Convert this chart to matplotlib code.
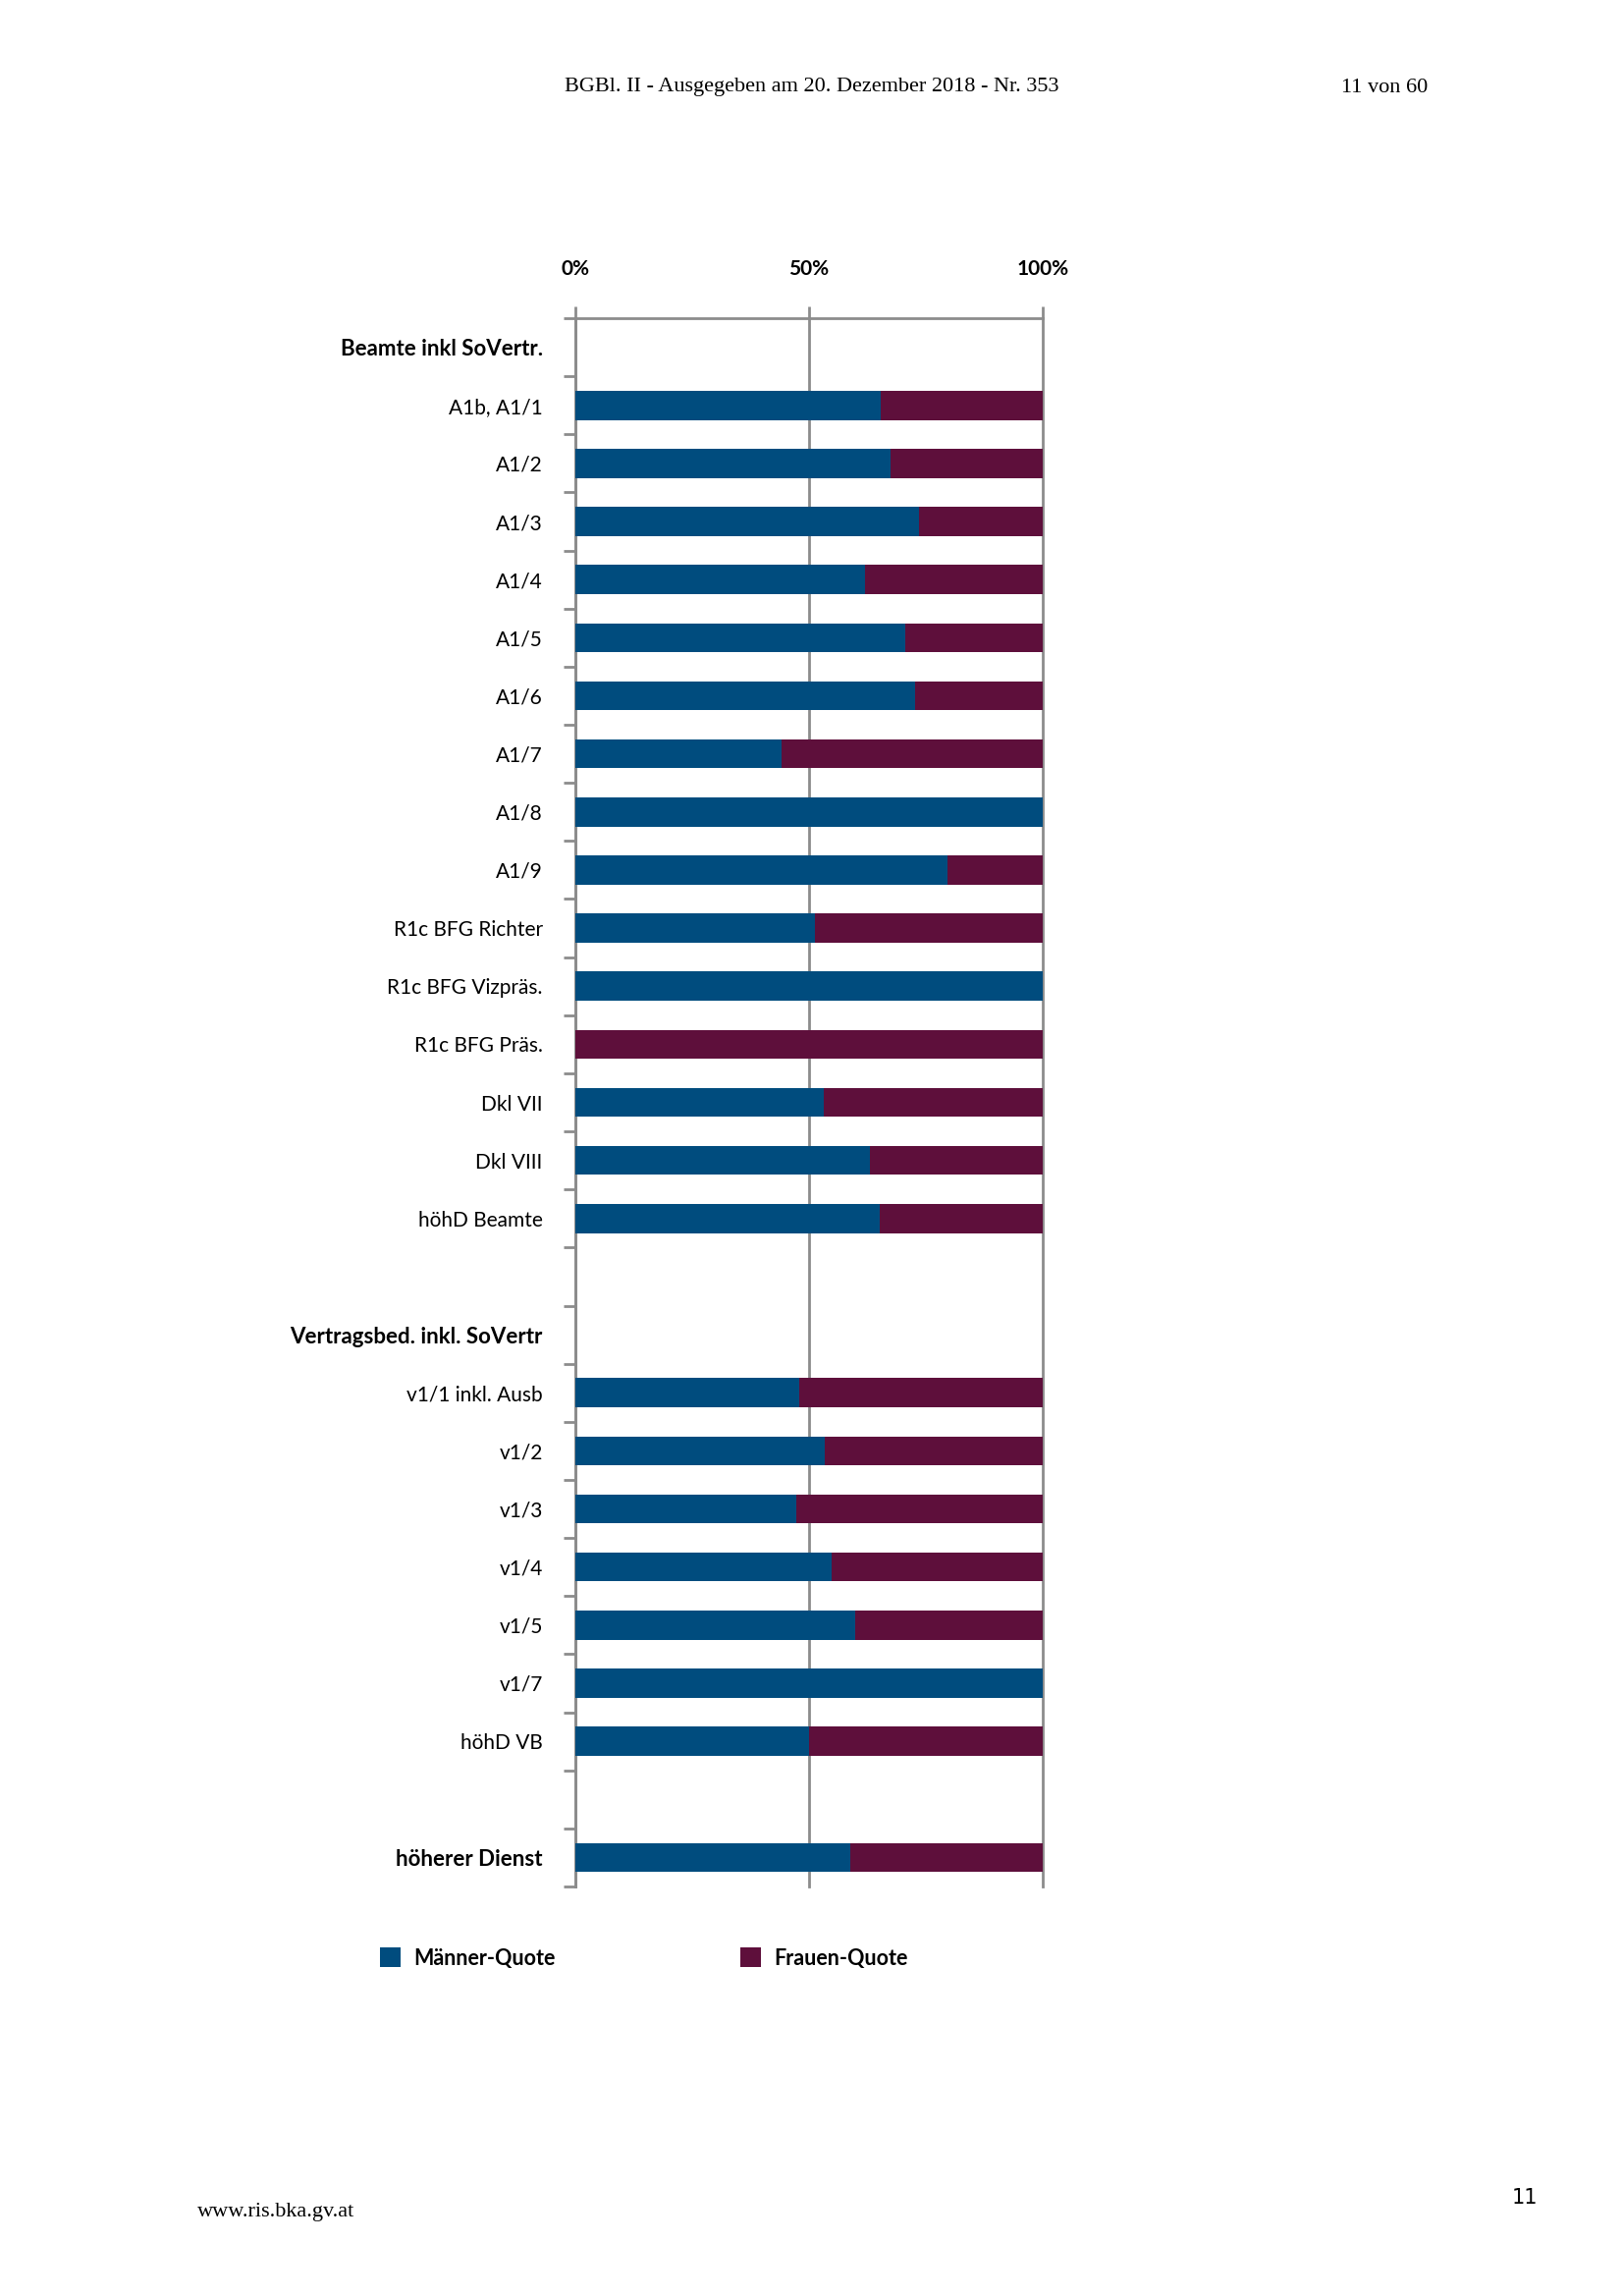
import matplotlib
matplotlib.use("Agg")
import matplotlib.pyplot as plt
import numpy as np

# rows from top to bottom, "" = empty spacer row
categories = ["Beamte inkl SoVertr.", "A1b, A1/1", "A1/2", "A1/3", "A1/4", "A1/5",
              "A1/6", "A1/7", "A1/8", "A1/9", "R1c BFG Richter", "R1c BFG Vizpräs.",
              "R1c BFG Präs.", "Dkl VII", "Dkl VIII", "höhD Beamte", "",
              "Vertragsbed. inkl. SoVertr", "v1/1 inkl. Ausb", "v1/2", "v1/3", "v1/4",
              "v1/5", "v1/7", "höhD VB", "", "höherer Dienst"]
bold_rows = ["Beamte inkl SoVertr.", "Vertragsbed. inkl. SoVertr", "höherer Dienst"]
# share of men in percent, None = no bar
maenner = [None, 65.4, 67.4, 73.6, 62.0, 70.5,
           72.6, 44.2, 100.0, 79.6, 51.2, 100.0,
           0.0, 53.1, 63.0, 65.1, None,
           None, 47.9, 53.3, 47.3, 54.8,
           59.8, 100.0, 50.1, None, 58.8]
xticks = [0, 50, 100]
xticklabels = ["0%", "50%", "100%"]

blue = "#004c7e"
maroon = "#5e0f3b"
grey = "#8c8c8c"
sans = ["Lato", "DejaVu Sans"]

fig = plt.figure(figsize=(16.53, 23.38), dpi=100)
ax = fig.add_axes([586 / 1653, 1 - 1921 / 2338, 476 / 1653, 1597 / 2338])

n = len(categories)
y = np.arange(n)
m = np.array([v if v is not None else np.nan for v in maenner])
f = 100 - m
bar_m = ax.barh(y, m, height=0.5, color=blue, label="Männer-Quote", zorder=3)
bar_f = ax.barh(y, f, left=m, height=0.5, color=maroon, label="Frauen-Quote", zorder=3)

ax.set_xlim(0, 100)
ax.set_ylim(n - 0.5, -0.5)

ax.xaxis.tick_top()
ax.set_xticks(xticks)
ax.set_xticklabels(xticklabels, fontsize=15, fontweight="bold", family=sans)
ax.tick_params(axis="x", length=9, width=2, color=grey, pad=20)
ax.grid(axis="x", color=grey, linewidth=2, zorder=1)
for gl in ax.get_xgridlines():
    gl.set_clip_on(False)

# y ticks at row boundaries, labels at row centres
ax.set_yticks(np.arange(n + 1) - 0.5)
ax.set_yticklabels([])
ax.tick_params(axis="y", which="major", length=9, width=2, color=grey)
ax.set_yticks(y, minor=True)
ax.set_yticklabels(categories, minor=True, fontsize=15, family=sans)
ax.tick_params(axis="y", which="minor", length=0, pad=24)
for lbl in ax.get_yticklabels(minor=True):
    if lbl.get_text() in bold_rows:
        lbl.set_fontweight("bold")
        lbl.set_fontsize(16)

for s in ["right", "bottom"]:
    ax.spines[s].set_visible(False)
for s in ["left", "top"]:
    ax.spines[s].set_color(grey)
    ax.spines[s].set_linewidth(2)

fig.legend(handles=[bar_m, bar_f], loc="center left", bbox_to_anchor=(376 / 1653, 1 - 1994 / 2338),
           ncol=2, frameon=False, borderpad=0, handlelength=1.0, handleheight=1.0,
           handletextpad=0.6, columnspacing=8.75,
           prop={"family": sans, "weight": "bold", "size": 15.5})

serif = ["Liberation Serif", "DejaVu Serif"]
fig.text(827 / 1653, 1 - 89 / 2338, "BGBl. II - Ausgegeben am 20. Dezember 2018 - Nr. 353",
         ha="center", va="center", fontsize=16, family=serif)
fig.text(1454 / 1653, 1 - 89 / 2338, "11 von 60", ha="right", va="center", fontsize=16, family=serif)
fig.text(201 / 1653, 1 - 2253 / 2338, "www.ris.bka.gv.at", ha="left", va="center", fontsize=16, family=serif)
fig.text(1553 / 1653, 1 - 2238 / 2338, "11", ha="center", va="center", fontsize=15,
         family=["Liberation Sans Narrow", "DejaVu Sans"])

fig.savefig("out.png", dpi=100, facecolor="white")
